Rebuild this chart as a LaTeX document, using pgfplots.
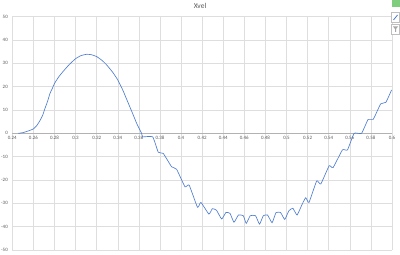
\documentclass[border=0pt]{standalone}
\usepackage{pgfplots}
\pgfplotsset{compat=1.18}
\usepackage{fontspec}
\setmainfont{Carlito}
\definecolor{xlblue}{RGB}{78,124,206}
\definecolor{xlgrid}{RGB}{222,222,222}
\definecolor{xltext}{RGB}{89,89,89}
\begin{document}
\begin{tikzpicture}[x=1bp,y=1bp]
\begin{axis}[
  at={(12.3bp,5bp)}, anchor=south west,
  scale only axis, width=379.7bp, height=233.3bp,
  xmin=0.24, xmax=0.6, ymin=-50, ymax=50,
  xtick={0.24,0.26,...,0.61}, ytick={-50,-40,...,50},
  axis x line=middle, axis y line=left,
  hide obscured x ticks=false, hide obscured y ticks=false,
  x axis line style={draw=xlgrid!80!black,-}, y axis line style={draw=none},
  major tick length=0pt,
  grid=major, major grid style={draw=xlgrid, line width=0.5pt},
  /pgf/number format/assume math mode=true,
  tick label style={font=\fontsize{5}{6}\selectfont, text=xltext},
  xticklabel style={/pgf/number format/fixed, /pgf/number format/precision=2, yshift=1bp},
  yticklabel style={xshift=-1bp},
  clip=false,
]
\addplot[xlblue, line width=0.65pt, smooth, tension=0.25] coordinates {
(0.2457,0) (0.25,0.3) (0.255,1.0) (0.26,1.9) (0.2635,3.5) (0.2665,5.7) (0.269,8) (0.271,10.7) (0.2735,13.8) (0.2757,17.1) (0.278,19.3) (0.28,21.4) (0.284,24.2) (0.2883,26.6) (0.294,29.5) (0.3,32.0) (0.305,33.3) (0.3105,33.9) (0.315,33.7) (0.32,32.9) (0.325,31.3) (0.3295,29.3) (0.335,26.3) (0.34,22.9) (0.345,18.3) (0.35,12.9) (0.354,8.6) (0.3579,4.3) (0.3626,0) (0.3636,-1.5) (0.3731,-1.5) (0.3784,-8.1) (0.3831,-8.6) (0.391,-14.3) (0.3958,-15.4) (0.4037,-22.9) (0.4077,-22.2) (0.4156,-31.7) (0.4188,-29.6) (0.4264,-34.6) (0.4296,-32.3) (0.4335,-32.9) (0.4385,-36.7) (0.4426,-33.9) (0.4464,-34.3) (0.4502,-38.1) (0.4544,-35) (0.459,-35.3) (0.4618,-38.6) (0.4656,-35.3) (0.4706,-35.3) (0.4744,-38.9) (0.478,-35.3) (0.482,-35) (0.4863,-38.3) (0.490,-34) (0.4943,-33.9) (0.4983,-36.9) (0.5022,-33.2) (0.506,-32.1) (0.510,-35) (0.5149,-30.3) (0.5182,-27.6) (0.5213,-29.6) (0.5286,-20.4) (0.5325,-21.7) (0.5404,-13.9) (0.5441,-14.7) (0.553,-7.1) (0.5578,-7.1) (0.5641,0) (0.5711,0) (0.5774,6) (0.5822,6) (0.5892,12.6) (0.5942,13.3) (0.5996,18.6)
};
\end{axis}
\node[text=xltext, font=\fontsize{7.5}{8}\selectfont] at (200bp,249bp) {Xvel};
% chart UI buttons
\fill[green!45!gray!70] (392bp,248bp) rectangle (400bp,255bp);
\draw[gray!50, fill=white] (391.5bp,233bp) rectangle (399.5bp,243bp);
\draw[xlblue, line width=0.8pt] (393.5bp,235bp) -- (397.5bp,240bp);
\draw[gray!50, fill=white] (391.5bp,221bp) rectangle (399.5bp,231bp);
\fill[gray!70] (393bp,228.5bp) -- (398bp,228.5bp) -- (396bp,226bp) -- (396bp,223bp) -- (395bp,223bp) -- (395bp,226bp) -- cycle;
\pgfresetboundingbox
\useasboundingbox (0,0) rectangle (400bp,255bp);
\end{tikzpicture}
\end{document}
